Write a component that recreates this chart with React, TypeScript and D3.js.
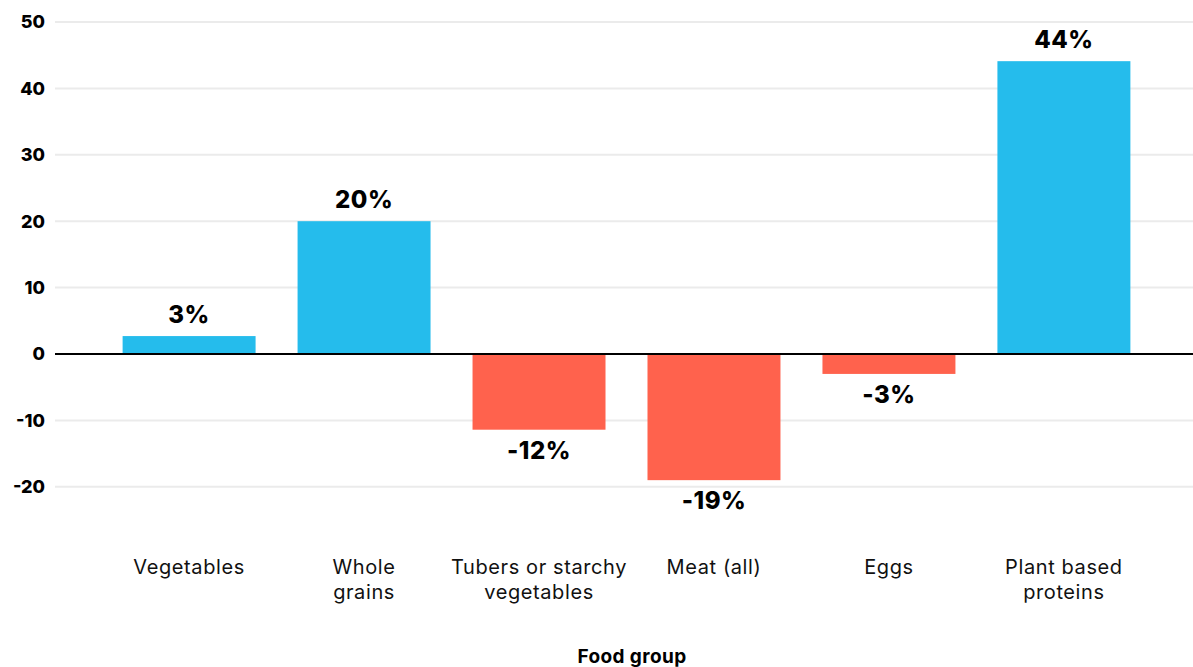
import React from "react";
import * as d3 from "d3";

const categories = [
  ["Vegetables"],
  ["Whole", "grains"],
  ["Tubers or starchy", "vegetables"],
  ["Meat (all)"],
  ["Eggs"],
  ["Plant based", "proteins"],
];
const values = [2.7, 20, -11.4, -19, -3, 44.1];
const valueLabels = ["3%", "20%", "-12%", "-19%", "-3%", "44%"];
const yTicks = [-20, -10, 0, 10, 20, 30, 40, 50];
const axisTitle = "Food group";

const W = 1193;
const H = 667;
const BLUE = "#25bcec";
const RED = "#ff624d";
const FONT = "Inter, 'Noto Sans', sans-serif";

export default function App() {
  const keys = categories.map((c) => c.join(" "));
  const x = d3
    .scaleBand<string>()
    .domain(keys)
    .range([57, 1196])
    .paddingInner(0.24)
    .paddingOuter(0.375);
  const y = d3.scaleLinear().domain([-25, 50]).range([520, 22]);

  return (
    <svg
      width={W}
      height={H}
      style={{ position: "absolute", left: 0, top: 0, fontFamily: FONT }}
    >
      <rect width={W} height={H} fill="#fff" />
      {yTicks.map((t) => (
        <g key={t}>
          {t !== 0 && (
            <line x1={55} x2={W} y1={y(t)} y2={y(t)} stroke="#ebebeb" strokeWidth={2} />
          )}
          <text
            x={45}
            y={y(t)}
            dy="0.36em"
            textAnchor="end"
            fontSize={18}
            fontWeight={800}
            fill="#000"
          >
            {t}
          </text>
        </g>
      ))}
      {values.map((v, i) => {
        const k = keys[i];
        const x0 = x(k)!;
        const y0 = y(Math.max(0, v));
        const h = Math.abs(y(v) - y(0));
        const cx = x0 + x.bandwidth() / 2;
        return (
          <g key={k}>
            <rect x={x0} y={y0} width={x.bandwidth()} height={h} fill={v >= 0 ? BLUE : RED} />
            <text
              x={cx}
              y={v >= 0 ? y(v) - 13 : y(v) + 29}
              textAnchor="middle"
              fontSize={24}
              fontWeight={800}
              letterSpacing={0.5}
              fill="#000"
            >
              {valueLabels[i]}
            </text>
            {categories[i].map((line, j) => (
              <text
                key={j}
                x={cx}
                y={574 + j * 25}
                textAnchor="middle"
                fontSize={20}
                fontWeight={400}
                letterSpacing={0.6}
                fill="#111"
              >
                {line}
              </text>
            ))}
          </g>
        );
      })}
      <line x1={55} x2={W} y1={y(0)} y2={y(0)} stroke="#000" strokeWidth={2} />
      <text x={632} y={663} textAnchor="middle" fontSize={19} fontWeight={700} letterSpacing={0.4} fill="#000">
        {axisTitle}
      </text>
    </svg>
  );
}
